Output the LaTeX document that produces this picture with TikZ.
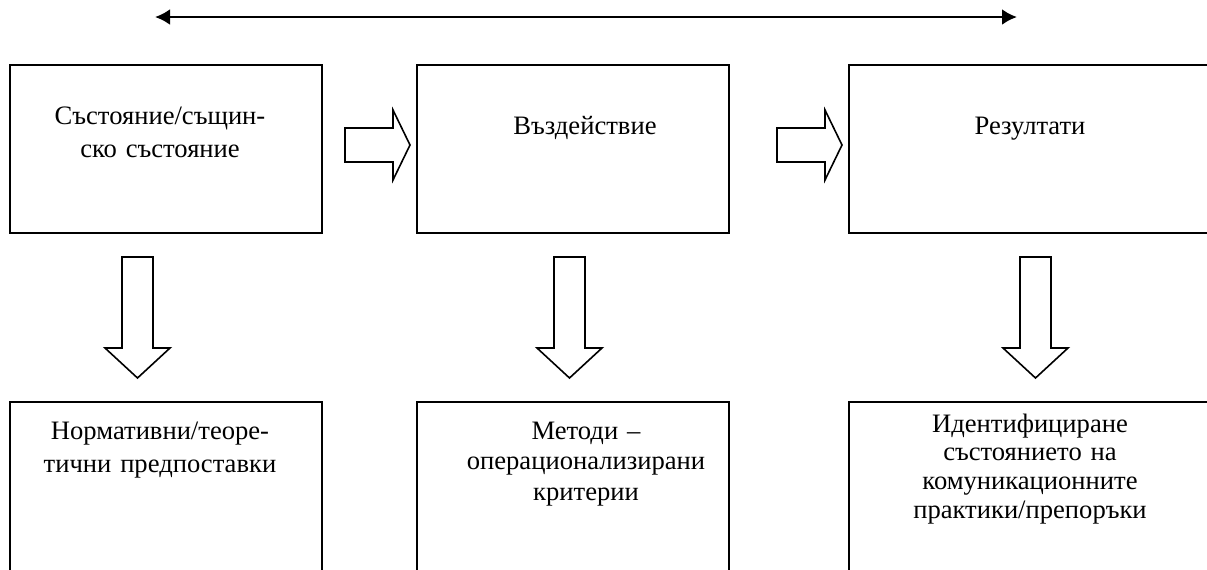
\documentclass[tikz,border=0pt]{standalone}
\usepackage{fontspec}
\setmainfont{Liberation Serif}
\usetikzlibrary{arrows.meta}

\begin{document}
\begin{tikzpicture}[x=0.5pt, y=-0.5pt,
  every node/.style={font=\fontsize{13.3pt}{16.5pt}\selectfont, inner sep=0pt},
  box/.style={draw, line width=1pt, minimum height=84pt},
  txt/.style={text width=150pt, align=center, anchor=base},
  blockarrow/.style={draw, line width=0.8pt, line join=miter, fill=white}]
\useasboundingbox (0,0) rectangle (1207,569);
\clip (0,0) rectangle (1207,569);
% upper row
\node[box, minimum width=156pt] (sost) at (166,149) {};
\node[box, minimum width=156pt] (vzd) at (572.5,149) {};
\node[box, minimum width=181pt] (rez) at (1030,149) {};
% lower row (open at the bottom)
\node[box, minimum width=156pt, minimum height=90pt] (norm) at (166,492) {};
\node[box, minimum width=156pt, minimum height=90pt] (met) at (572.5,492) {};
\node[box, minimum width=181pt, minimum height=90pt] (ident) at (1030,492) {};
% texts
\node[txt] (sost-t) at (160,124) {Състояние/същин-\\ско състояние};
\node[txt] (vzd-t) at (585,134) {Въздействие};
\node[txt] (rez-t) at (1030,134) {Резултати};
\node[txt] (norm-t) at (160,439) {Нормативни/теоре-\\тични предпоставки};
\node[txt, font=\fontsize{13.3pt}{15.25pt}\selectfont] (met-t) at (586,439)
  {Методи –\\операционализирани\\критерии};
\node[txt, font=\fontsize{13.3pt}{14.4pt}\selectfont] (ident-t) at (1030,432)
  {Идентифициране\\състоянието на\\комуникационните\\практики/препоръки};
% top double arrow
\coordinate (la) at (155,17);
\coordinate (ra) at (1017,17);
\draw[{Latex[length=7.5pt,width=8pt]}-{Latex[length=7.5pt,width=8pt]}, line width=1.3pt] (la) -- (ra);
% block arrows to the right
\foreach \x in {345,777} {
  \draw[blockarrow] (\x,128) -- ++(48,0) -- ++(0,-18) -- ++(17,35) -- ++(-17,35)
    -- ++(0,-18) -- ++(-48,0) -- cycle;
}
% block arrows down
\foreach \x in {122,554,1020} {
  \draw[blockarrow] (\x,257) -- ++(31,0) -- ++(0,91) -- ++(17,0) -- ++(-32.5,30)
    -- ++(-32.5,-30) -- ++(17,0) -- cycle;
}
\end{tikzpicture}
\end{document}
